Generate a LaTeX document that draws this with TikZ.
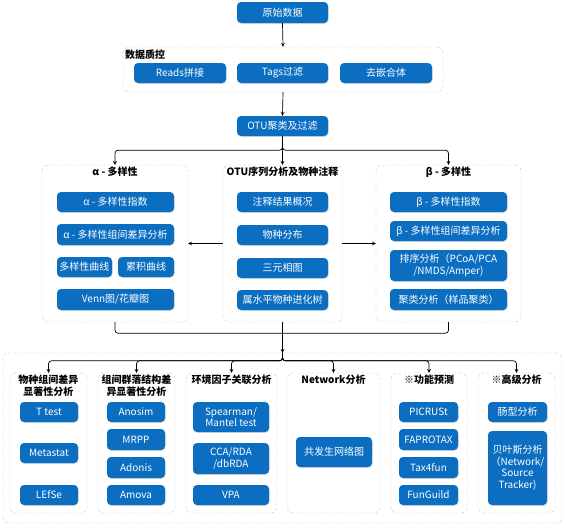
\documentclass[tikz,border=0pt]{standalone}
\usepackage{fontspec}
\setmainfont{Noto Sans CJK SC}
\usetikzlibrary{shadows}
\definecolor{boxblue}{HTML}{0B6EC0}
\definecolor{dashgray}{HTML}{C8C8C8}
\begin{document}
\begin{tikzpicture}[x=1pt, y=-1pt, >=stealth,
    blk/.style={draw=none, fill=boxblue, text=white, rounded corners=4pt, inner sep=0pt,
        align=center, font=\fontsize{10}{11.5}\selectfont,
        drop shadow={shadow xshift=0.6pt, shadow yshift=-0.8pt, fill=black!25, opacity=0.6}},
    grp/.style={draw=dashgray, dashed, dash pattern=on 3pt off 2pt, fill=white,
        rounded corners=6pt, inner sep=0pt},
    ttl/.style={font=\fontsize{10}{12}\selectfont\bfseries, align=center, inner sep=0pt},
    link/.style={->, line width=0.7pt}]
    \useasboundingbox (0,0) rectangle (566,528);

    % Raw data and quality control
    \node[blk, minimum width=91, minimum height=21] (raw) at (282.5,12.5) {原始数据};
    \node[grp, minimum width=320, minimum height=45] (qc) at (283,69.5) {};
    \node[ttl, anchor=west] (qctitle) at (125,55) {数据质控};
    \node[blk, minimum width=92, minimum height=20] (reads) at (180,73) {Reads拼接};
    \node[blk, minimum width=91, minimum height=20] (tags) at (282.5,73) {Tags过滤};
    \node[blk, minimum width=92, minimum height=20] (chim) at (386,73) {去嵌合体};
    \node[blk, minimum width=91, minimum height=20] (otu) at (282.5,126) {OTU聚类及过滤};
    \draw[link] (raw.south) -- (qc.north);
    \draw[link] (qc.south) -- (otu.north);

    % Middle row groups
    \node[grp, minimum width=146, minimum height=157] (alpha) at (115,243.5) {};
    \node[grp, minimum width=119, minimum height=157] (anno) at (282.5,243.5) {};
    \node[grp, minimum width=145, minimum height=157] (beta) at (448.5,243.5) {};
    \node[ttl] (alphatitle) at (115,172) {α - 多样性};
    \node[ttl] (annotitle) at (282.5,172) {OTU序列分析及物种注释};
    \node[ttl] (betatitle) at (448.5,172) {β - 多样性};

    \draw[link] (otu.south) -- (anno.north);
    \draw[link, rounded corners=3pt] (otu.south) -- ++(0,14) -| (alpha.north);
    \draw[link, rounded corners=3pt] (otu.south) -- ++(0,14) -| (beta.north);
    \draw[link] (anno.west) -- (alpha.east);
    \draw[link] (anno.east) -- (beta.west);

    % Alpha diversity
    \node[blk, minimum width=117, minimum height=20] (a1) at (115.5,202) {α - 多样性指数};
    \node[blk, minimum width=117, minimum height=21] (a2) at (115.5,234.5) {α - 多样性组间差异分析};
    \node[blk, minimum width=55, minimum height=20] (a3) at (84.5,267) {多样性曲线};
    \node[blk, minimum width=56, minimum height=20] (a4) at (146,267) {累积曲线};
    \node[blk, minimum width=117, minimum height=21] (a5) at (115.5,299.5) {Venn图/花瓣图};

    % Annotation
    \node[blk, minimum width=91, minimum height=20] (n1) at (282.5,202) {注释结果概况};
    \node[blk, minimum width=91, minimum height=20] (n2) at (282.5,235) {物种分布};
    \node[blk, minimum width=91, minimum height=20] (n3) at (282.5,268) {三元相图};
    \node[blk, minimum width=91, minimum height=20] (n4) at (282.5,300) {属水平物种进化树};

    % Beta diversity
    \node[blk, minimum width=117, minimum height=20] (b1) at (448.5,202) {β - 多样性指数};
    \node[blk, minimum width=117, minimum height=20] (b2) at (448.5,231) {β - 多样性组间差异分析};
    \node[blk, minimum width=117, minimum height=31] (b3) at (448.5,265.5) {排序分析（PCoA/PCA\\/NMDS/Amper)};
    \node[blk, minimum width=117, minimum height=21] (b4) at (448.5,299.5) {聚类分析（样品聚类）};

    % Bottom groups
    \node[grp, minimum width=559, minimum height=170] (bottom) at (282.5,438) {};
    \coordinate (split) at (anno.south |- bottom.north);
    \draw[line width=0.7pt, rounded corners=3pt] (alpha.south) -- ++(0,11) -| (beta.south);
    \draw[link] (anno.south) -- (split);

    \node[grp, minimum width=77, minimum height=140] (g1) at (48.5,443) {};
    \node[grp, minimum width=77, minimum height=140] (g2) at (136.5,443) {};
    \node[grp, minimum width=91, minimum height=140] (g3) at (231.5,443) {};
    \node[grp, minimum width=93, minimum height=140] (g4) at (333.5,443) {};
    \node[grp, minimum width=76, minimum height=140] (g5) at (429,443) {};
    \node[grp, minimum width=77, minimum height=140] (g6) at (516.5,443) {};
    \foreach \g in {g1,g2,g3,g4,g5,g6}
        \draw[link, rounded corners=3pt] (split) -- ++(0,8) -| (\g.north);

    \node[ttl] (t1) at (48.5,386) {物种组间差异\\显著性分析};
    \node[ttl] (t2) at (136.5,386) {组间群落结构差\\异显著性分析};
    \node[ttl] (t3) at (231.5,380) {环境因子关联分析};
    \node[ttl] (t4) at (333.5,380) {Network分析};
    \node[ttl] (t5) at (429,380) {※功能预测};
    \node[ttl] (t6) at (516.5,380) {※高级分析};

    % Species difference
    \node[blk, minimum width=58, minimum height=20] (s1) at (49,412) {T test};
    \node[blk, minimum width=58, minimum height=20] (s2) at (49,453) {Metastat};
    \node[blk, minimum width=58, minimum height=20] (s3) at (49,495) {LEfSe};

    % Community structure
    \node[blk, minimum width=58, minimum height=20] (c1) at (136,412) {Anosim};
    \node[blk, minimum width=58, minimum height=21] (c2) at (136,439.5) {MRPP};
    \node[blk, minimum width=58, minimum height=21] (c3) at (136,467.5) {Adonis};
    \node[blk, minimum width=58, minimum height=20] (c4) at (136,495) {Amova};

    % Environmental factors
    \node[blk, minimum width=76, minimum height=30] (e1) at (231,417) {Spearman/\\Mantel test};
    \node[blk, minimum width=76, minimum height=31] (e2) at (231,458.5) {CCA/RDA\\/dbRDA};
    \node[blk, minimum width=76, minimum height=20] (e3) at (231,495) {VPA};

    % Network
    \node[blk, minimum width=76, minimum height=30] (w1) at (334,452) {共发生网络图};

    % Function prediction
    \node[blk, minimum width=59, minimum height=20] (f1) at (428.5,412) {PICRUSt};
    \node[blk, minimum width=59, minimum height=21] (f2) at (428.5,439.5) {FAPROTAX};
    \node[blk, minimum width=59, minimum height=21] (f3) at (428.5,467.5) {Tax4fun};
    \node[blk, minimum width=59, minimum height=20] (f4) at (428.5,495) {FunGuild};

    % Advanced analysis
    \node[blk, minimum width=59, minimum height=20] (v1) at (517.5,412) {肠型分析};
    \node[blk, minimum width=59, minimum height=74] (v2) at (517.5,468) {贝叶斯分析\\（Network/\\Source\\Tracker)};
\end{tikzpicture}
\end{document}
